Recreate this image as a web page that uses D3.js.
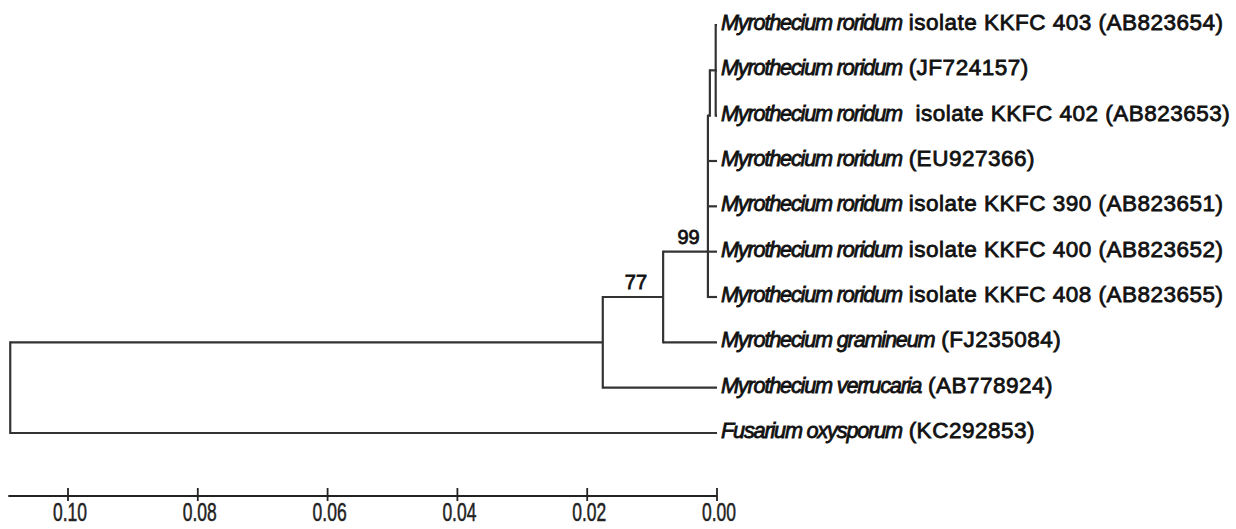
<!DOCTYPE html>
<html>
<head>
<meta charset="utf-8">
<script src="https://cdn.jsdelivr.net/npm/d3@7"></script>
<style>
  body { margin: 0; background: #fff; }
  text { font-family: "Liberation Sans", Arial, sans-serif; }
</style>
</head>
<body>
<div id="tree"></div>
<script>
// leaves, top to bottom
const leafGenus = [
  "Myrothecium roridum", "Myrothecium roridum", "Myrothecium roridum",
  "Myrothecium roridum", "Myrothecium roridum", "Myrothecium roridum",
  "Myrothecium roridum", "Myrothecium gramineum", "Myrothecium verrucaria",
  "Fusarium oxysporum"
];
const leafSuffix = [
  " isolate KKFC 403 (AB823654)", " (JF724157)", "\u00a0 isolate KKFC 402 (AB823653)",
  " (EU927366)", " isolate KKFC 390 (AB823651)", " isolate KKFC 400 (AB823652)",
  " isolate KKFC 408 (AB823655)", " (FJ235084)", " (AB778924)", " (KC292853)"
];
const leafParent = ["D", "D", "D", "N99", "N99", "N99", "N99", "B", "A", "root"];

// internal nodes: distance from the tips and the row where the parent branch joins
const nodeId      = ["root", "A",    "B",    "N99",  "C",    "D"];
const nodeParent  = [null,   "root", "A",    "B",    "N99",  "C"];
const nodeDist    = [0.1089, 0.0176, 0.0083, 0.0014, 0.0011, 0.0002];
const nodeRow     = [8,      7,      6,      5,      2,      1];
const nodeSupport = ["",     "",     "77",   "99",   "",     ""];

// scale bar
const scaleTicks  = [0.10, 0.08, 0.06, 0.04, 0.02, 0.00];
const scaleLabels = ["0.10", "0.08", "0.06", "0.04", "0.02", "0.00"];
const scaleMax = 0.1092;

const width = 1236, height = 529;

const svg = d3.select("#tree").append("svg")
  .attr("width", width)
  .attr("height", height);

// distance from tips -> x, leaf row -> y
const x = d3.scaleLinear().domain([0, 0.10]).range([717, 68]);
const y = d3.scaleLinear().domain([0, 9]).range([25, 433]);

// collect every node
const nodes = new Map();
nodeId.forEach((id, i) => nodes.set(id, {
  id, parent: nodeParent[i], dist: nodeDist[i], row: nodeRow[i], support: nodeSupport[i], leaf: false
}));
leafGenus.forEach((g, i) => nodes.set("leaf" + i, {
  id: "leaf" + i, parent: leafParent[i], dist: 0, row: i, support: "", leaf: true,
  genus: g, suffix: leafSuffix[i]
}));

const lineColor = "#333";
const branches = svg.append("g")
  .attr("stroke", lineColor)
  .attr("stroke-width", 2.2)
  .attr("fill", "none");

// horizontal branches
nodes.forEach(n => {
  if (!n.parent) return;
  const p = nodes.get(n.parent);
  branches.append("line")
    .attr("x1", x(p.dist)).attr("x2", x(n.dist))
    .attr("y1", y(n.row)).attr("y2", y(n.row));
});

// vertical connectors
nodeId.forEach(id => {
  const n = nodes.get(id);
  const rows = [n.row];
  nodes.forEach(c => { if (c.parent === id) rows.push(c.row); });
  branches.append("line")
    .attr("x1", x(n.dist)).attr("x2", x(n.dist))
    .attr("y1", y(d3.min(rows)) - 1).attr("y2", y(d3.max(rows)) + 1);
});

// bootstrap values
nodes.forEach(n => {
  if (!n.support) return;
  const p = nodes.get(n.parent);
  svg.append("text")
    .attr("x", (x(p.dist) + x(n.dist)) / 2 + 3)
    .attr("y", y(n.row) - 8)
    .attr("text-anchor", "middle")
    .attr("font-size", "20px")
    .attr("fill", "#111")
    .attr("stroke", "#111")
    .attr("stroke-width", 0.8)
    .text(n.support);
});

// leaf labels
const labels = svg.append("g")
  .attr("fill", "#111")
  .attr("stroke", "#111")
  .attr("stroke-width", 0.8);

nodes.forEach(n => {
  if (!n.leaf) return;
  const t = labels.append("text")
    .attr("x", x(0) + 4)
    .attr("y", y(n.row) + 5)
    .style("white-space", "pre");
  t.append("tspan")
    .attr("font-style", "italic")
    .attr("font-size", "21.7px")
    .attr("letter-spacing", "-1.2px")
    .text(n.genus);
  t.append("tspan")
    .attr("font-size", "22.5px")
    .attr("letter-spacing", "0.5px")
    .text(n.suffix);
});

// scale bar
const axisY = 496;
const bar = svg.append("g");
bar.append("line")
  .attr("x1", x(scaleMax)).attr("x2", x(0))
  .attr("y1", axisY).attr("y2", axisY)
  .attr("stroke", "#222").attr("stroke-width", 2.2);

bar.selectAll(".tick")
  .data(scaleTicks)
  .enter()
  .append("line")
  .attr("class", "tick")
  .attr("x1", d => x(d)).attr("x2", d => x(d))
  .attr("y1", axisY - 8).attr("y2", axisY + 5)
  .attr("stroke", "#222").attr("stroke-width", 1.8);

bar.selectAll(".tlabel")
  .data(scaleTicks)
  .enter()
  .append("text")
  .attr("class", "tlabel")
  .attr("transform", d => `translate(${x(d) + 2},${axisY + 25}) scale(0.7,1)`)
  .attr("text-anchor", "middle")
  .attr("font-size", "25px")
  .attr("fill", "#222")
  .attr("stroke", "#222")
  .attr("stroke-width", 0.5)
  .text((d, i) => scaleLabels[i]);
</script>
</body>
</html>
